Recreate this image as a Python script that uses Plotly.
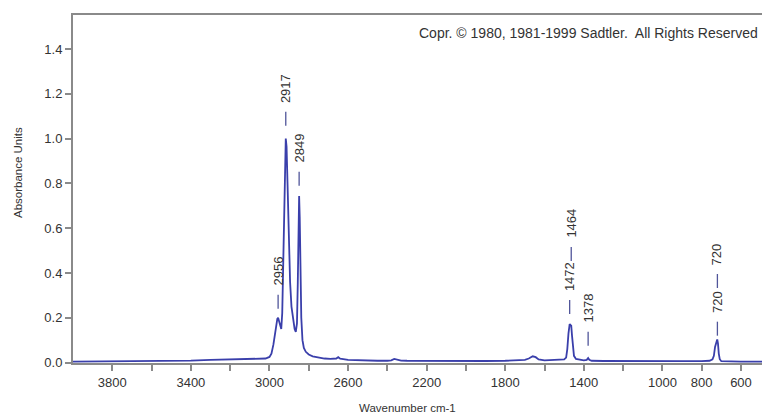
import plotly.graph_objects as go

# Spectrum (wavenumber cm-1, absorbance)
wavenumber = [4000, 3900, 3800, 3700, 3600, 3500, 3400, 3300, 3200, 3100, 3050, 3020, 3000,
              2990, 2980, 2972, 2966, 2960, 2956, 2952, 2946, 2940, 2935, 2930, 2925, 2920,
              2917, 2913, 2908, 2902, 2895, 2888, 2880, 2872, 2866, 2860, 2856, 2852, 2849,
              2846, 2842, 2838, 2832, 2825, 2815, 2800, 2780, 2750, 2720, 2690, 2660, 2650,
              2640, 2600, 2550, 2500, 2450, 2400, 2380, 2365, 2350, 2330, 2300, 2200, 2100,
              2000, 1900, 1800, 1750, 1700, 1680, 1660, 1645, 1630, 1600, 1560, 1530, 1500,
              1490, 1484, 1478, 1474, 1472, 1468, 1464, 1460, 1455, 1450, 1440, 1420, 1400,
              1385, 1378, 1372, 1360, 1300, 1200, 1100, 1000, 900, 800, 760, 745, 738, 732,
              727, 722, 720, 717, 713, 708, 700, 680, 650, 600, 550, 493]
absorbance = [0.004, 0.005, 0.005, 0.004, 0.006, 0.007, 0.009, 0.012, 0.014, 0.015, 0.016, 0.018, 0.025,
              0.040, 0.080, 0.130, 0.170, 0.195, 0.200, 0.185, 0.160, 0.150, 0.220, 0.470, 0.790, 0.965,
              1.000, 0.965, 0.800, 0.560, 0.360, 0.250, 0.185, 0.150, 0.137, 0.175, 0.350, 0.640, 0.744,
              0.650, 0.400, 0.200, 0.100, 0.065, 0.048, 0.036, 0.028, 0.022, 0.018, 0.016, 0.018, 0.024,
              0.017, 0.012, 0.010, 0.009, 0.008, 0.008, 0.010, 0.016, 0.012, 0.009, 0.008, 0.007, 0.007,
              0.007, 0.007, 0.008, 0.009, 0.012, 0.018, 0.028, 0.024, 0.014, 0.010, 0.012, 0.014, 0.014,
              0.022, 0.060, 0.130, 0.165, 0.172, 0.168, 0.165, 0.120, 0.060, 0.030, 0.016, 0.012, 0.010,
              0.012, 0.020, 0.012, 0.008, 0.007, 0.006, 0.006, 0.006, 0.006, 0.006, 0.008, 0.014, 0.030, 0.070,
              0.092, 0.100, 0.100, 0.085, 0.040, 0.015, 0.006, 0.005, 0.004, 0.004, 0.004, 0.004]

# Peak labels (text, wavenumber, absorbance of the label's dash base)
peak_text = ["2956", "2917", "2849", "1472", "1464", "1378", "720", "720"]
peak_x = [2956, 2917, 2849, 1472, 1464, 1378, 720, 720]
peak_base = [0.240, 1.057, 0.789, 0.217, 0.454, 0.075, 0.120, 0.333]

x_ticks = [3800, 3600, 3400, 3200, 3000, 2800, 2600, 2400, 2200, 2000, 1800, 1600, 1400, 1200, 1000, 800, 600]
x_tick_text = ["3800", "", "3400", "", "3000", "", "2600", "", "2200", "", "1800", "", "1400", "", "1000", "800", "600"]
y_ticks = [0.0, 0.2, 0.4, 0.6, 0.8, 1.0, 1.2, 1.4]

FONT = "Liberation Sans, Arial, sans-serif"
LINE_BLUE = "#3a3fab"
AXIS_GRAY = "#8a8a8a"

fig = go.Figure()
fig.add_trace(go.Scatter(x=wavenumber, y=absorbance, mode="lines",
                         line=dict(color=LINE_BLUE, width=1.8), hoverinfo="skip"))

DASH = 14
GAP = 7
for t, xv, yb in zip(peak_text, peak_x, peak_base):
    fig.add_shape(type="line", xref="x", yref="y", ysizemode="pixel", yanchor=yb,
                  x0=xv, x1=xv, y0=0, y1=DASH, line=dict(color="#50559a", width=1.3))
    fig.add_annotation(x=xv, y=yb, xref="x", yref="y", text=t, textangle=-90,
                       showarrow=False, xanchor="center", yanchor="bottom", yshift=DASH + GAP,
                       font=dict(family=FONT, size=13, color="#333333"))

fig.add_annotation(text="Copr. \u00a9 1980, 1981-1999 Sadtler.  All Rights Reserved",
                   xref="paper", yref="paper", x=0.499, y=0.948, xanchor="left", yanchor="middle",
                   showarrow=False, font=dict(family=FONT, size=14, color="#333333"))
fig.add_annotation(text="Absorbance Units", xref="paper", yref="paper", x=-0.0798, y=0.546,
                   textangle=-90, showarrow=False, xanchor="center", yanchor="middle",
                   font=dict(family=FONT, size=11.5, color="#333333"))
fig.add_annotation(text="Wavenumber cm-1", xref="paper", yref="paper", x=0.486, y=-0.129,
                   showarrow=False, xanchor="center", yanchor="middle",
                   font=dict(family=FONT, size=11.5, color="#333333"))

fig.update_layout(
    width=762, height=416,
    margin=dict(l=73, r=0, t=15, b=53),
    paper_bgcolor="white", plot_bgcolor="white",
    showlegend=False,
    font=dict(family=FONT, size=13, color="#333333"),
    xaxis=dict(range=[4000, 493], tickvals=x_ticks, ticktext=x_tick_text,
               showgrid=False, zeroline=False, showline=True, linecolor=AXIS_GRAY, linewidth=2,
               mirror=True, ticks="outside", ticklen=6, tickwidth=1.5, tickcolor=AXIS_GRAY,
               tickfont=dict(family=FONT, size=13, color="#333333")),
    yaxis=dict(range=[-0.002, 1.552], tickvals=y_ticks, tickformat=".1f",
               showgrid=False, zeroline=False, showline=True, linecolor=AXIS_GRAY, linewidth=2,
               ticks="outside", ticklen=6, tickwidth=1.5, tickcolor=AXIS_GRAY,
               tickfont=dict(family=FONT, size=13, color="#333333")),
)

fig.write_html("out.html")
